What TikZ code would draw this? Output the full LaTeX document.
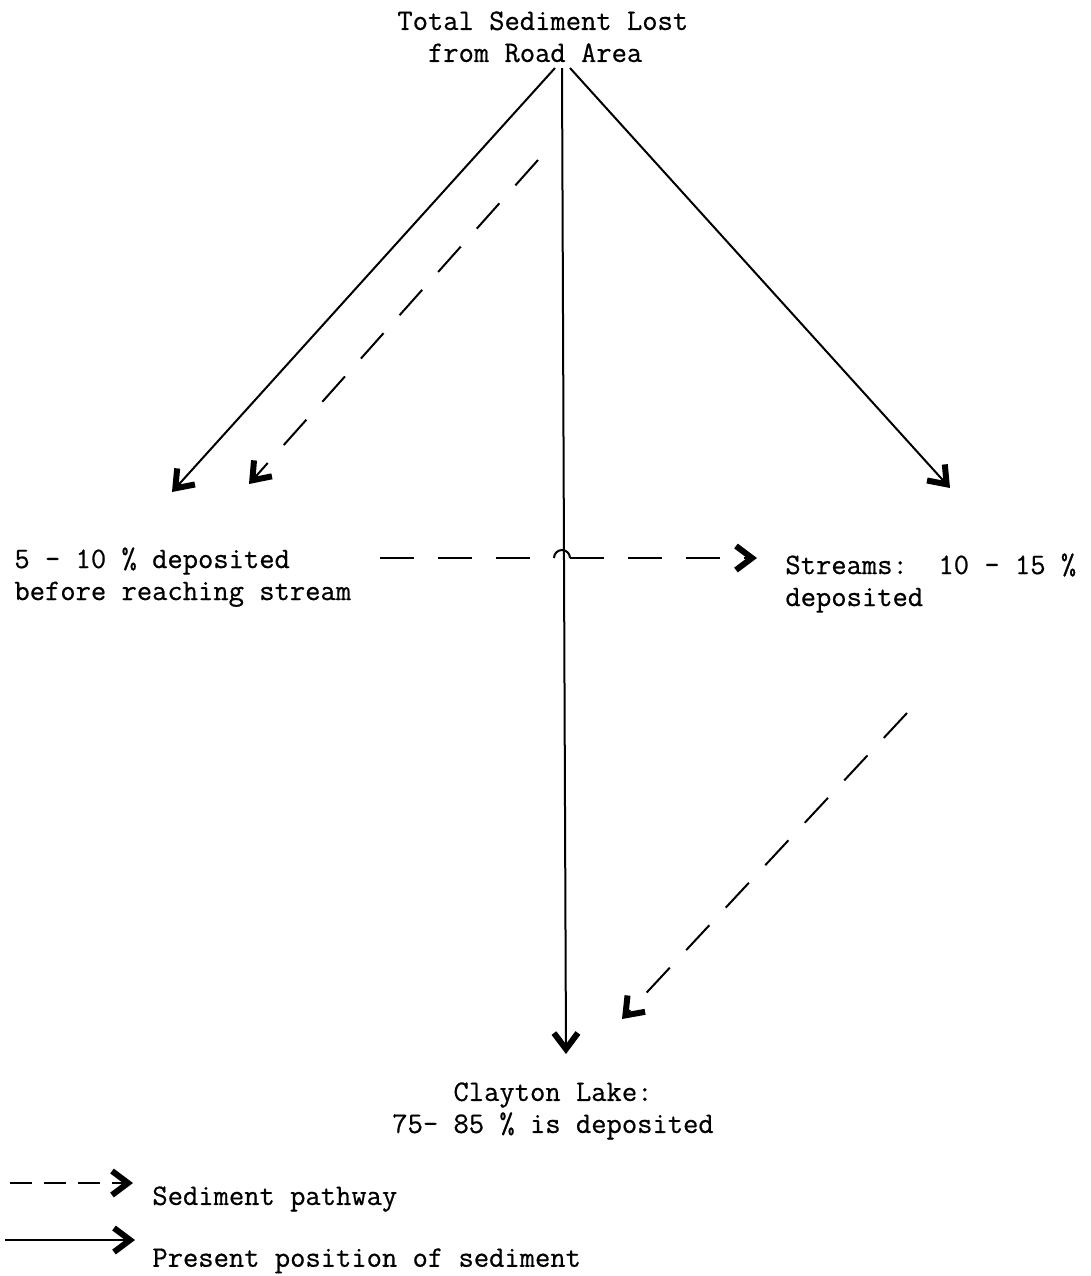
\documentclass[tikz,border=0pt]{standalone}
\usepackage{fontspec}
\setmonofont{Latin Modern Mono}[FakeBold=0.6]
\usetikzlibrary{arrows.meta,positioning,calc}

\begin{document}
\begin{tikzpicture}[x=0.5pt,y=-0.5pt,
  >={Straight Barb[length=8pt,width=12pt,line width=3pt]},
  txt/.style={font=\ttfamily\fontsize{14.86}{16}\selectfont,inner sep=0pt},
  solid line/.style={line width=1pt,->},
  pathway/.style={line width=1pt,dash pattern=on 17pt off 12pt},
  legdash/.style={line width=1pt,dash pattern=on 11pt off 6pt,->}]
  \useasboundingbox (0,0) rectangle (1091,1276);

  % text blocks
  \node[txt,anchor=north west,align=left] (total) at (397,11)
    {Total Sediment Lost\\\phantom{fr}from Road Area};
  \node[txt,anchor=north west,align=left] (before) at (14,547)
    {5 - 10 \% deposited\\before reaching stream};
  \node[txt,anchor=north west,align=left] (streams) at (785,553)
    {Streams:\phantom{x} 10 - 15 \%\\deposited};
  \node[txt,anchor=north,align=center] (lake) at (553,1082)
    {Clayton Lake:\\75- 85 \% is deposited};
  \node[txt,anchor=north west] (legpath) at (152,1186) {Sediment pathway};
  \node[txt,anchor=north west] (legpos) at (152,1248) {Present position of sediment};

  % connector end points
  \coordinate (tl) at (555,68);
  \coordinate (tm) at (562,68);
  \coordinate (tr) at (570,68);
  \coordinate (el) at (172,492);
  \coordinate (er) at (950,488);
  \coordinate (em) at (566,1054);
  \coordinate (ds1) at (538,160);
  \coordinate (de1) at (249,484);
  \coordinate (ds2) at (380,558);
  \coordinate (hop1) at (554,558);
  \coordinate (hop2) at (570,558);
  \coordinate (de2) at (757,558);
  \coordinate (ds3) at (907,713);
  \coordinate (de3) at (622,1019);
  \coordinate (l1a) at (10,1183);
  \coordinate (l1b) at (133,1183);
  \coordinate (l2a) at (5,1240);
  \coordinate (l2b) at (135,1240);

  % present position
  \draw[solid line] (tl) -- (el);
  \draw[solid line] (tr) -- (er);
  \draw[solid line] (tm) -- (em);

  % sediment pathway
  \draw[pathway,->] (ds1) -- (de1);
  \draw[pathway] (ds2) -- (hop1);
  \draw[line width=1pt] (hop1) arc[start angle=180,end angle=360,radius=8];
  \draw[pathway,->] (hop2) -- (de2);
  \draw[pathway,->] (ds3) -- (de3);

  % legend
  \draw[legdash] (l1a) -- (l1b);
  \draw[solid line] (l2a) -- (l2b);
\end{tikzpicture}
\end{document}
